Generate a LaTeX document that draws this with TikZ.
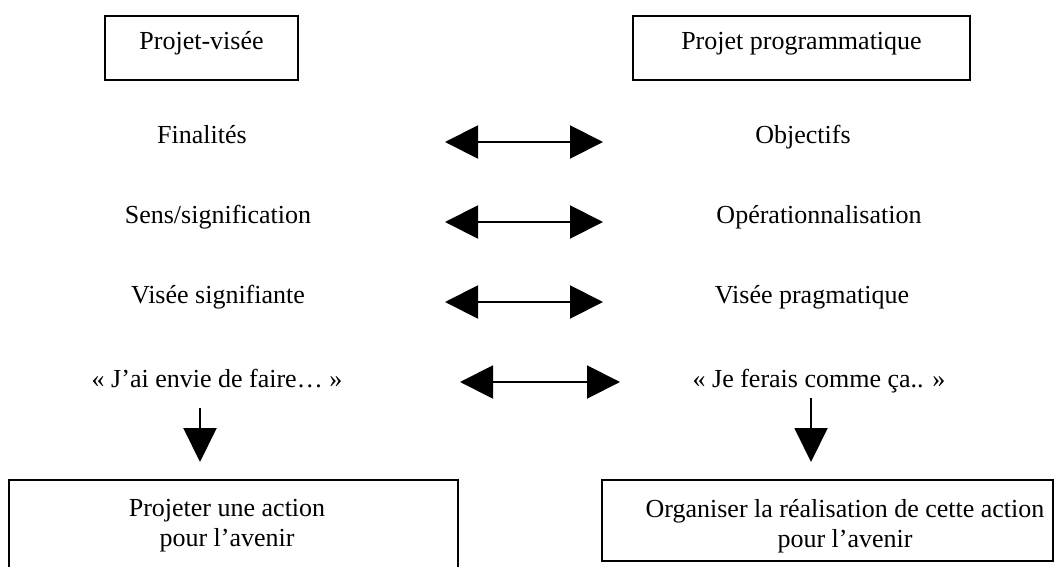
\documentclass[tikz,border=0pt]{standalone}
\usepackage{fontspec}
\setmainfont{Liberation Serif}
\usetikzlibrary{arrows.meta}
\tikzset{
  txt/.style={anchor=base, inner sep=0pt, font=\fontsize{26}{30}\selectfont},
  topbox/.style={draw, line width=1.6pt, anchor=base, inner xsep=0pt, inner ysep=0pt,
     text height=34pt, text depth=30pt, font=\fontsize{26}{30}\selectfont},
  botbox/.style={draw, line width=1.6pt, anchor=north, align=center, inner sep=0pt,
     font=\fontsize{26}{30}\selectfont},
  dbl/.style={line width=2pt, {Triangle[length=33pt,width=33pt]}-{Triangle[length=33pt,width=33pt]}},
  down/.style={line width=2pt, -{Triangle[length=34pt,width=33pt]}}
}
\begin{document}
\begin{tikzpicture}[x=1pt,y=-1pt]
\useasboundingbox (0,0) rectangle (1054,567);
% top boxes
\node[topbox, minimum width=193pt] (pv) at (201.5,50) {Projet-visée};
\node[topbox, minimum width=337pt] (pp) at (801.5,50) {Projet programmatique};
% left column
\node[txt] (fin) at (202,143) {Finalités};
\node[txt] (sens) at (218,223) {Sens/signification};
\node[txt] (vs) at (218,303) {Visée signifiante};
\node[txt] (jai) at (217,387) {« J’ai envie de faire… »};
% right column
\node[txt] (obj) at (803,143) {Objectifs};
\node[txt] (op) at (819,223) {Opérationnalisation};
\node[txt] (vp) at (812,303) {Visée pragmatique};
\node[txt] (jf) at (819,387) {« Je ferais comme ça.. »};
% double arrows
\coordinate (a1l) at (445,142); \coordinate (a1r) at (603,142);
\coordinate (a2l) at (445,222); \coordinate (a2r) at (603,222);
\coordinate (a3l) at (445,302); \coordinate (a3r) at (603,302);
\coordinate (a4l) at (460,382); \coordinate (a4r) at (620,382);
\draw[dbl] (a1l) -- (a1r);
\draw[dbl] (a2l) -- (a2r);
\draw[dbl] (a3l) -- (a3r);
\draw[dbl] (a4l) -- (a4r);
% bottom boxes
\node[botbox, minimum width=449pt, minimum height=92pt] (pa) at (233.5,479)
  {Projeter une action\kern13pt\\pour l’avenir\kern13pt};
\node[botbox, minimum width=451pt, minimum height=81pt] (oa) at (827.5,479)
  {\rule{0pt}{30pt}\hspace*{35pt}Organiser la réalisation de cette action\\\hspace*{35pt}pour l’avenir};
% down arrows
\coordinate (dl) at (200,408);
\coordinate (dlt) at (200,462);
\coordinate (dr) at (811,398);
\coordinate (drt) at (811,462);
\draw[down] (dl) -- (dlt);
\draw[down] (dr) -- (drt);
\end{tikzpicture}
\end{document}
